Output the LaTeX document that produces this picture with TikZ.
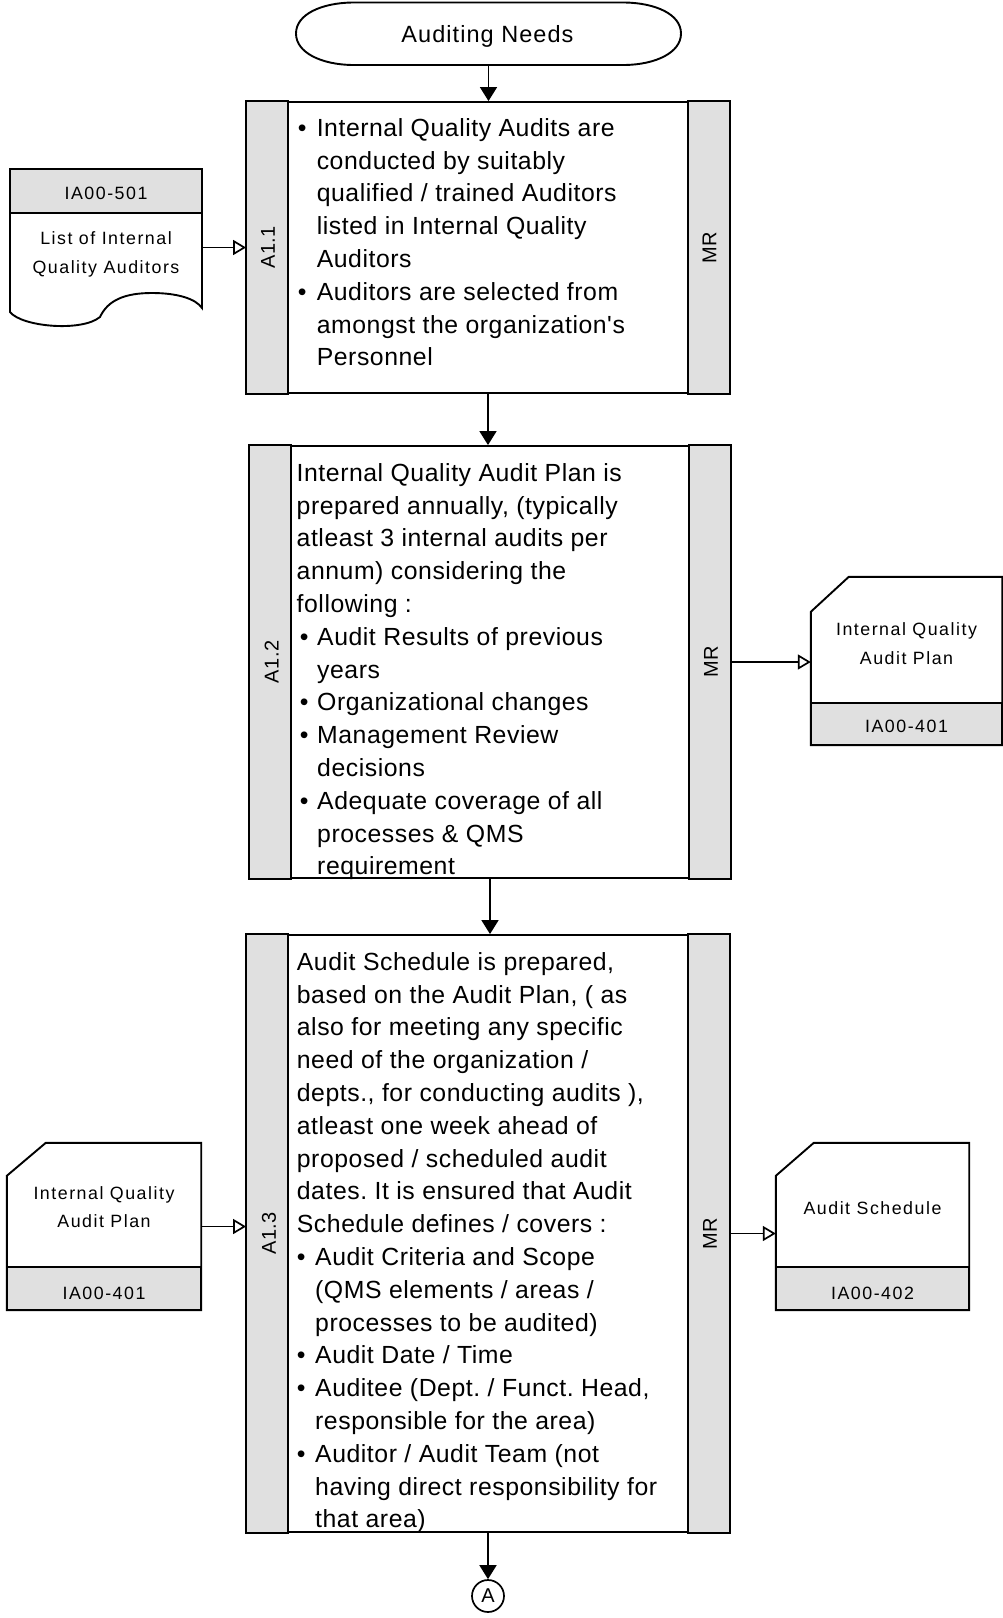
\documentclass[tikz,border=0pt]{standalone}
\usepackage{fontspec}
\setmainfont{Liberation Sans}
\newfontfamily\bodyf{Liberation Sans}[Ligatures=TeXOff,LetterSpace=2.2]
\newfontfamily\smallf{Liberation Sans}[Ligatures=TeXOff,LetterSpace=8.5]
\newfontfamily\labf{Liberation Sans}[Ligatures=TeXOff,LetterSpace=2]
\newfontfamily\termf{Liberation Sans}[Ligatures=TeXOff,LetterSpace=4.5]
\usetikzlibrary{arrows.meta,calc}
\definecolor{stripgray}{RGB}{224,224,224}
\newcommand{\bulbox}[1]{\makebox[#1][l]{•}}
\frenchspacing
\begin{document}
\frenchspacing
\begin{tikzpicture}[x=1pt,y=-1pt,
  outl/.style={line width=1.9pt, line join=miter},
  procbox/.style={draw, line width=1.9pt, inner sep=0pt},
  strip/.style={fill=stripgray, draw, line width=1.9pt},
  flow/.style={-{Triangle[length=14pt,width=17pt]}, line width=1.7pt},
  feed/.style={-{Triangle[open,length=13pt,width=15pt]}, line width=1.7pt},
  bodytext/.style={anchor=north west, inner sep=0pt, align=left, font=\bodyf\fontsize{24.8}{32.8}\selectfont},
  smalltext/.style={anchor=base, inner sep=0pt, font=\smallf\fontsize{17.8}{22}\selectfont},
  labeltext/.style={rotate=90, inner sep=0pt, font=\labf\fontsize{20}{24}\selectfont},
  docarea/.style={inner sep=0pt, draw=none}
]
\useasboundingbox (0,0) rectangle (1003,1618);
\fill[white] (0,0) rectangle (1003,1618);

% ---------- terminator ----------
\node[docarea, minimum width=385, minimum height=63] (term) at (488.5,33.5) {};
\draw[outl] (296,33.5) .. controls (296,14) and (322,3) .. (352,2.5) -- (625,2.5)
  .. controls (655,3) and (681,14) .. (681,33.5)
  .. controls (681,53) and (655,64.5) .. (625,65) -- (352,65)
  .. controls (322,64.5) and (296,53) .. (296,33.5) -- cycle;
\node[anchor=base, inner sep=0pt, font=\termf\fontsize{23.5}{28}\selectfont] (termtext) at (487.5,42.7) {Auditing Needs};

% ---------- process boxes ----------
\node[procbox, minimum width=482, minimum height=291] (b1) at (488,247.5) {};
\node[procbox, minimum width=480, minimum height=432] (b2) at (490,662) {};
\node[procbox, minimum width=482, minimum height=597] (b3) at (488,1233.5) {};

\foreach \b in {b1,b2,b3}{
  \draw[strip] (\b.north west) rectangle ($(\b.south west)+(42,0)$);
  \draw[strip] ($(\b.north east)+(-42,0)$) rectangle (\b.south east);
}

\node[labeltext] (l1) at ($(b1.west)+(22,0)$) {A1.1};
\node[labeltext] (m1) at ($(b1.east)+(-20.5,0)$) {MR};
\node[labeltext] (l2) at ($(b2.west)+(22.5,0)$) {A1.2};
\node[labeltext] (m2) at ($(b2.east)+(-20,0)$) {MR};
\node[labeltext] (l3) at ($(b3.west)+(23,0)$) {A1.3};
\node[labeltext] (m3) at ($(b3.east)+(-20,0)$) {MR};

% ---------- box texts ----------
\node[bodytext] (t1) at (297.6,112) {\rule{0pt}{24pt}\bulbox{19pt}Internal Quality Audits are\\
\hspace*{19pt}conducted by suitably\\
\hspace*{19pt}qualified / trained Auditors\\
\hspace*{19pt}listed in Internal Quality\\
\hspace*{19pt}Auditors\\
\bulbox{19pt}Auditors are selected from\\
\hspace*{19pt}amongst the organization's\\
\hspace*{19pt}Personnel};

\node[bodytext] (t2) at (296.5,457) {\rule{0pt}{24pt}Internal Quality Audit Plan is\\
prepared annually, (typically\\
atleast 3 internal audits per\\
annum) considering the\\
following :\\
\hspace*{3.2pt}\bulbox{17.3pt}Audit Results of previous\\
\hspace*{20.5pt}years\\
\hspace*{3.2pt}\bulbox{17.3pt}Organizational changes\\
\hspace*{3.2pt}\bulbox{17.3pt}Management Review\\
\hspace*{20.5pt}decisions\\
\hspace*{3.2pt}\bulbox{17.3pt}Adequate coverage of all\\
\hspace*{20.5pt}processes \& QMS\\
\hspace*{20.5pt}requirement};

\node[bodytext] (t3) at (296.7,946) {\rule{0pt}{24pt}Audit Schedule is prepared,\\
based on the Audit Plan, ( as\\
also for meeting any specific\\
need of the organization /\\
depts., for conducting audits ),\\
atleast one week ahead of\\
proposed / scheduled audit\\
dates. It is ensured that Audit\\
Schedule defines / covers :\\
\bulbox{18.3pt}Audit Criteria and Scope\\
\hspace*{18.3pt}(QMS elements / areas /\\
\hspace*{18.3pt}processes to be audited)\\
\bulbox{18.3pt}Audit Date / Time\\
\bulbox{18.3pt}Auditee (Dept. / Funct. Head,\\
\hspace*{18.3pt}responsible for the area)\\
\bulbox{18.3pt}Auditor / Audit Team (not\\
\hspace*{18.3pt}having direct responsibility for\\
\hspace*{18.3pt}that area)};

% ---------- document IA00-501 ----------
\node[docarea, minimum width=192, minimum height=157] (d1) at (106,247.5) {};
\draw[outl] (10,213) -- (10,312) .. controls (22,327) and (82,332) .. (100,317)
  .. controls (108,300) and (125,293) .. (152,293)
  .. controls (178,293) and (196,299) .. (202,308) -- (202,213);
\draw[strip] (10,169) rectangle (202,213);
\node[smalltext] (d1id) at (106,199.3) {IA00-501};
\node[smalltext] (d1a) at (106,244.3) {List of Internal};
\node[smalltext] (d1b) at (106,273) {Quality Auditors};

% ---------- document IA00-401 (right) ----------
\node[docarea, minimum width=191, minimum height=168] (d2) at (906.5,661) {};
\draw[outl] (d2.south west) -- ($(d2.north west)+(0,35)$) -- ($(d2.north west)+(38,0)$) -- (d2.north east) -- (d2.south east) -- cycle;
\draw[strip] ($(d2.south west)+(0,-42)$) rectangle (d2.south east);
\node[smalltext] (d2a) at (906.5,635) {Internal Quality};
\node[smalltext] (d2b) at (906.5,664) {Audit Plan};
\node[smalltext] (d2id) at (906.5,732) {IA00-401};

% ---------- document IA00-401 (left) ----------
\node[docarea, minimum width=194, minimum height=167] (d3) at (104,1226.5) {};
\draw[outl] (d3.south west) -- ($(d3.north west)+(0,33)$) -- ($(d3.north west)+(39,0)$) -- (d3.north east) -- (d3.south east) -- cycle;
\draw[strip] ($(d3.south west)+(0,-43)$) rectangle (d3.south east);
\node[smalltext] (d3a) at (104,1199) {Internal Quality};
\node[smalltext] (d3b) at (104,1227.5) {Audit Plan};
\node[smalltext] (d3id) at (104,1299) {IA00-401};

% ---------- document IA00-402 ----------
\node[docarea, minimum width=193, minimum height=167] (d4) at (872.5,1226.5) {};
\draw[outl] (d4.south west) -- ($(d4.north west)+(0,33)$) -- ($(d4.north west)+(38,0)$) -- (d4.north east) -- (d4.south east) -- cycle;
\draw[strip] ($(d4.south west)+(0,-43)$) rectangle (d4.south east);
\node[smalltext] (d4a) at (872.5,1214) {Audit Schedule};
\node[smalltext] (d4id) at (872.5,1299) {IA00-402};

% ---------- connector A ----------
\node[draw, circle, minimum size=32, inner sep=0pt, line width=1.7pt, font=\labf\fontsize{20}{22}\selectfont] (ca) at (488,1596) {A};

% ---------- connectors ----------
\draw[flow] (term.south) -- (term.south |- b1.north);
\draw[flow] (b1.south) -- (b1.south |- b2.north);
\draw[flow] (b2.south) -- (b2.south |- b3.north);
\draw[flow] (b3.south) -- (ca.north);
\draw[feed] (d1.east) -- (d1.east -| b1.west);
\draw[feed] (b2.east) -- (b2.east -| d2.west);
\draw[feed] (d3.east) -- (d3.east -| b3.west);
\draw[feed] (b3.east) -- (b3.east -| d4.west);
\end{tikzpicture}
\end{document}
